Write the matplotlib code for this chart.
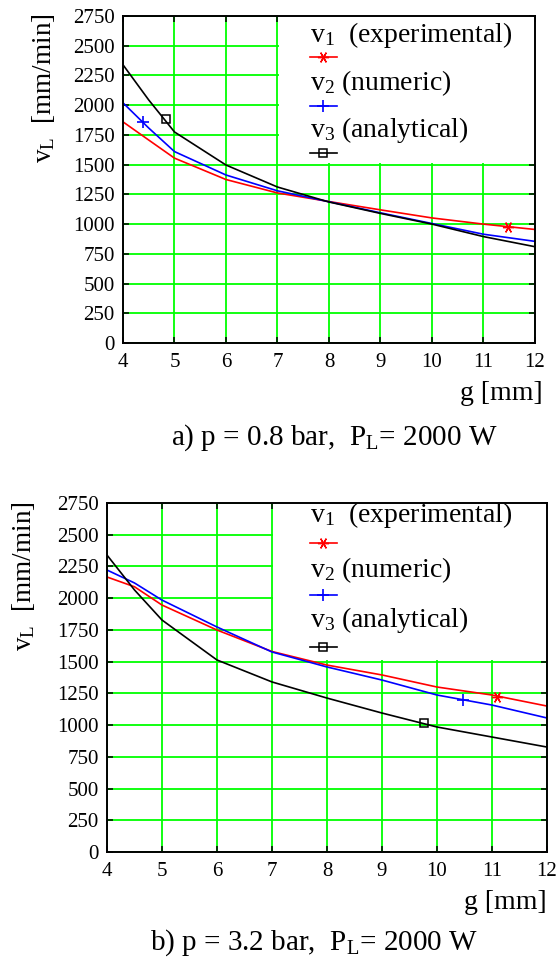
import matplotlib
matplotlib.use("Agg")
import matplotlib.pyplot as plt
from matplotlib.patches import Rectangle

plt.rcParams['font.family'] = ['Liberation Serif', 'DejaVu Serif']
plt.rcParams['mathtext.fontset'] = 'custom'
plt.rcParams['mathtext.rm'] = 'Liberation Serif'
plt.rcParams['mathtext.it'] = 'Liberation Serif'

# 데이터
g = [4, 4.5, 5, 6, 7, 8, 9, 10, 11, 12]

a_v1 = [1860, 1707, 1555, 1375, 1262, 1190, 1120, 1052, 1000, 955]
a_v2 = [2020, 1808, 1610, 1413, 1280, 1188, 1095, 1005, 915, 855]
a_v3 = [2340, 2044, 1775, 1497, 1312, 1186, 1090, 1000, 895, 810]
a_marks = [(11.48, 975), (4.38, 1862), (4.83, 1885)]

b_v1 = [2167, 2090, 1946, 1749, 1580, 1473, 1395, 1300, 1237, 1150]
b_v2 = [2222, 2120, 1985, 1773, 1576, 1458, 1355, 1237, 1158, 1056]
b_v3 = [2340, 2065, 1828, 1513, 1340, 1213, 1095, 985, 906, 827]
b_marks = [(11.1, 1225), (10.47, 1198), (9.76, 1016)]

x_ticks = [4, 5, 6, 7, 8, 9, 10, 11, 12]
y_ticks = list(range(0, 2751, 250))

labels = [r"$\mathrm{v}_1$  (experimental)", r"$\mathrm{v}_2$ (numeric)", r"$\mathrm{v}_3$ (analytical)"]
colors = ["#ff0000", "#0000ff", "#000000"]
markers = [dict(marker=(6, 2, 90), ms=8, mew=1.0),
           dict(marker="+", ms=8, mew=1.2),
           dict(marker="s", ms=6, mew=1.1, mfc="none")]

fig = plt.figure(figsize=(5.56, 9.66), dpi=100)


def draw_panel(rect, series, marks, caption, ylab_pos, leg_rows, leg_x, xlab_pos, cap_pos):
    ax = fig.add_axes(rect)
    ax.set_xlim(4, 12)
    ax.set_ylim(0, 2750)
    ax.set_xticks(x_ticks)
    ax.set_yticks(y_ticks)
    ax.set_axisbelow(True)
    ax.grid(True, color="#00ff00", lw=1.3)
    ax.tick_params(direction="in", length=4, width=1.1, top=True, right=True, labelsize=15)
    ax.tick_params(axis="x", pad=7)
    ax.tick_params(axis="y", pad=6)
    for s in ax.spines.values():
        s.set_linewidth(1.4)

    # 범례 영역 (격자 가림)
    ax.add_patch(Rectangle((7.025, 1510), 5, 1250, facecolor="white", edgecolor="none", zorder=1))

    for v, c in zip(series, colors):
        ax.plot(g, v, color=c, lw=1.2, zorder=2)
    for (mx, my), c, m in zip(marks, colors, markers):
        ax.plot([mx], [my], color=c, ls="none", zorder=3, **m)

    # 범례 (라벨 아래에 샘플)
    for i, (lab, c, m) in enumerate(zip(labels, colors, markers)):
        ty, my = leg_rows[i]
        ax.text(leg_x[0], ty, lab, transform=ax.transAxes, fontsize=20,
                va="center", ha="left", zorder=4)
        ax.plot(leg_x, [my, my], color=c, lw=1.2, transform=ax.transAxes, zorder=4, clip_on=False)
        ax.plot([(leg_x[0] + leg_x[1]) / 2], [my], color=c, transform=ax.transAxes,
                ls="none", zorder=4, clip_on=False, **m)

    ax.text(ylab_pos[0], ylab_pos[1], r"$\mathrm{v}_\mathrm{L}$  [mm/min]", transform=ax.transAxes,
            rotation=90, fontsize=19.5, ha="center", va="center")
    ax.text(xlab_pos[0], xlab_pos[1], "g [mm]", transform=ax.transAxes, fontsize=20,
            ha="right", va="center")
    fig.text(cap_pos[0] / 556, 1 - cap_pos[1] / 966, caption, fontsize=21, ha="center", va="center")
    return ax


draw_panel([0.2212, 0.6449, 0.741, 0.3385], [a_v1, a_v2, a_v3], a_marks,
           r"a) p = 0.8 bar,  $\mathrm{P}_\mathrm{L}$= 2000 W", (-0.194, 0.78),
           [(0.942, 0.875), (0.795, 0.725), (0.651, 0.581)], [0.454, 0.519],
           (1.019, -0.153), (334, 438))

draw_panel([0.1924, 0.118, 0.7914, 0.3613], [b_v1, b_v2, b_v3], b_marks,
           r"b) p = 3.2 bar,  $\mathrm{P}_\mathrm{L}$= 2000 W", (-0.19, 0.79),
           [(0.966, 0.885), (0.808, 0.736), (0.665, 0.587)], [0.461, 0.523],
           (1.0, -0.146), (314, 943))

fig.savefig("out.png", dpi=100)
